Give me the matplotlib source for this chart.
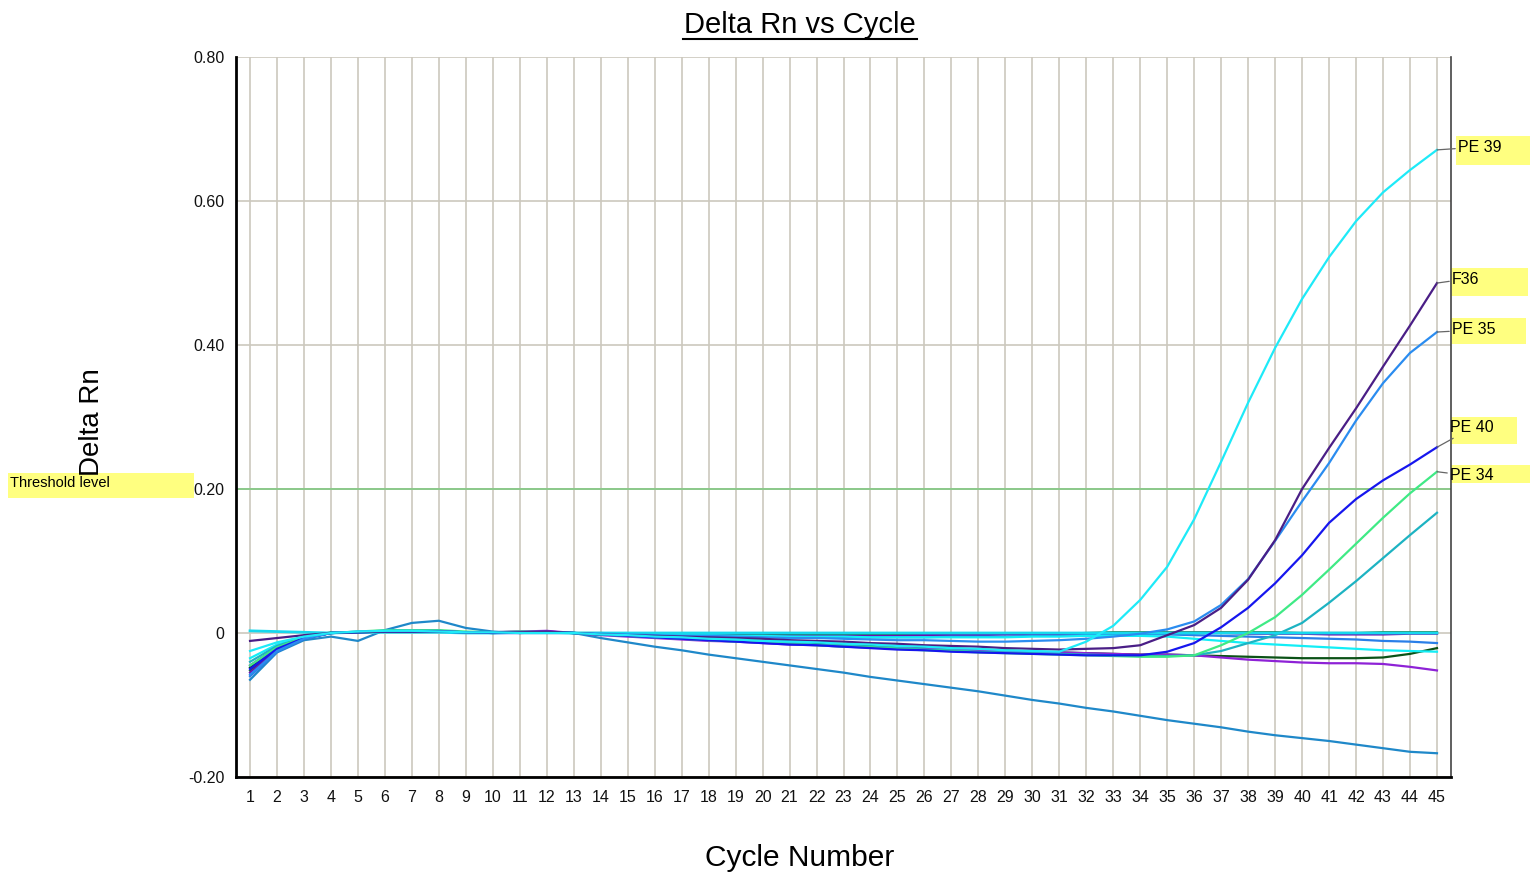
import matplotlib
matplotlib.use("Agg")
from matplotlib import pyplot as plt
from matplotlib.patches import Rectangle
import numpy as np

plt.rcParams['font.family'] = ['Liberation Sans', 'DejaVu Sans']

cycles = list(range(1, 46))

# labelled amplification curves
pe39 = [-0.025, -0.013, -0.005, 0.000, 0.002, 0.003, 0.003, 0.002, 0.001, 0.001, 0.000, 0.000, 0.000,
        -0.002, -0.003, -0.005, -0.006, -0.008, -0.009, -0.011, -0.012, -0.013, -0.015, -0.016, -0.018,
        -0.019, -0.021, -0.022, -0.024, -0.025, -0.026,
        -0.012, 0.010, 0.046, 0.092, 0.158, 0.238, 0.320, 0.396, 0.464, 0.522, 0.572, 0.612, 0.643, 0.671]
f36 = [-0.011, -0.007, -0.003, 0.000, 0.001, 0.002, 0.002, 0.002, 0.001, 0.001, 0.001, 0.002, 0.000,
       -0.002, -0.003, -0.004, -0.005, -0.006, -0.007, -0.008, -0.010, -0.011, -0.012, -0.014, -0.015,
       -0.017, -0.018, -0.019, -0.021, -0.022, -0.023,
       -0.022, -0.021, -0.017, -0.003, 0.011, 0.035, 0.074, 0.129, 0.200, 0.257, 0.312, 0.370, 0.427, 0.486]
pe35 = [-0.058, -0.025, -0.008, 0.000, 0.002, 0.003, 0.003, 0.003, 0.001, 0.001, 0.001, 0.001, 0.000,
        -0.001, -0.002, -0.003, -0.004, -0.004, -0.005, -0.006, -0.007, -0.007, -0.008, -0.009, -0.010,
        -0.010, -0.011, -0.012, -0.012, -0.011, -0.010,
        -0.008, -0.005, -0.001, 0.005, 0.016, 0.039, 0.075, 0.128, 0.183, 0.236, 0.295, 0.347, 0.389, 0.418]
pe40 = [-0.050, -0.022, -0.007, 0.000, 0.001, 0.002, 0.002, 0.002, 0.001, 0.000, 0.000, 0.001, 0.000,
        -0.002, -0.004, -0.006, -0.008, -0.010, -0.012, -0.014, -0.016, -0.017, -0.019, -0.021, -0.023,
        -0.024, -0.026, -0.027, -0.028, -0.029, -0.030,
        -0.031, -0.031, -0.031, -0.026, -0.014, 0.008, 0.035, 0.069, 0.108, 0.153, 0.186, 0.212, 0.234, 0.258]
pe34 = [-0.045, -0.020, -0.006, 0.000, 0.002, 0.004, 0.004, 0.004, 0.002, 0.001, 0.002, 0.001, 0.000,
        -0.002, -0.004, -0.006, -0.008, -0.010, -0.012, -0.013, -0.015, -0.017, -0.019, -0.020, -0.022,
        -0.024, -0.025, -0.027, -0.028, -0.029, -0.030,
        -0.031, -0.032, -0.033, -0.033, -0.031, -0.017, 0.000, 0.022, 0.053, 0.088, 0.124, 0.160, 0.194, 0.224]

# unlabelled wells
teal = [-0.040, -0.018, -0.006, 0.000, 0.001, 0.003, 0.003, 0.003, 0.001, 0.001, 0.001, 0.001, 0.000,
        -0.002, -0.004, -0.005, -0.007, -0.009, -0.011, -0.012, -0.014, -0.016, -0.018, -0.019, -0.021,
        -0.023, -0.024, -0.026, -0.027, -0.028, -0.029,
        -0.030, -0.031, -0.032, -0.032, -0.031, -0.025, -0.014, -0.003, 0.014, 0.042, 0.072, 0.104, 0.136, 0.167]
dkgreen = [-0.048, -0.021, -0.007, 0.000, 0.001, 0.002, 0.002, 0.002, 0.001, 0.000, 0.001, 0.001, 0.000,
           -0.002, -0.003, -0.005, -0.006, -0.008, -0.009, -0.011, -0.012, -0.014, -0.015, -0.017, -0.018,
           -0.020, -0.021, -0.023, -0.024, -0.026, -0.027,
           -0.028, -0.029, -0.030, -0.030, -0.031, -0.032, -0.033, -0.034, -0.035, -0.035, -0.035, -0.034, -0.029, -0.021]
violet = [-0.045, -0.020, -0.006, 0.000, 0.001, 0.002, 0.002, 0.002, 0.001, 0.001, 0.002, 0.003, 0.000,
          -0.003, -0.005, -0.007, -0.009, -0.011, -0.012, -0.014, -0.016, -0.017, -0.019, -0.020, -0.021,
          -0.022, -0.023, -0.024, -0.025, -0.026, -0.027,
          -0.028, -0.029, -0.030, -0.030, -0.031, -0.034, -0.037, -0.039, -0.041, -0.042, -0.042, -0.043, -0.047, -0.052]
cyan2 = [-0.035, -0.016, -0.006, 0.000, 0.001, 0.002, 0.002, 0.002, 0.001, 0.001, 0.001, 0.001, 0.000,
         -0.001, -0.002, -0.002, -0.003, -0.003, -0.004, -0.004, -0.005, -0.005, -0.005, -0.006, -0.006,
         -0.006, -0.006, -0.006, -0.006, -0.005, -0.005,
         -0.004, -0.004, -0.004, -0.005, -0.008, -0.011, -0.014, -0.016, -0.018, -0.020, -0.022, -0.024, -0.025, -0.026]
drift = [-0.065, -0.027, -0.010, -0.005, -0.011, 0.004, 0.014, 0.017, 0.007, 0.002, 0.000, 0.000, 0.000,
         -0.007, -0.013, -0.019, -0.024, -0.030, -0.035, -0.040, -0.045, -0.050, -0.055, -0.061, -0.066,
         -0.071, -0.076, -0.081, -0.087, -0.093, -0.098,
         -0.104, -0.109, -0.115, -0.121, -0.126, -0.131, -0.137, -0.142, -0.146, -0.150, -0.155, -0.160, -0.165, -0.167]
blue2 = [-0.060, -0.026, -0.008, 0.000, 0.001, 0.002, 0.002, 0.002, 0.001, 0.000, 0.000, 0.000, 0.000,
         -0.001, -0.002, -0.003, -0.003, -0.004, -0.004, -0.005, -0.005, -0.006, -0.006, -0.006, -0.006,
         -0.006, -0.005, -0.005, -0.005, -0.004, -0.004,
         -0.003, -0.003, -0.002, -0.002, -0.003, -0.004, -0.005, -0.006, -0.007, -0.008, -0.009, -0.011, -0.012, -0.014]
purple2 = [-0.055, -0.024, -0.008, 0.000, 0.001, 0.002, 0.002, 0.002, 0.001, 0.001, 0.002, 0.002, 0.000,
           -0.001, -0.002, -0.002, -0.003, -0.003, -0.004, -0.004, -0.004, -0.004, -0.004, -0.004, -0.004,
           -0.003, -0.003, -0.003, -0.002, -0.002, -0.002,
           -0.001, -0.001, -0.001, 0.000, 0.000, 0.000, -0.001, -0.001, -0.001, -0.002, -0.002, -0.002, -0.001, -0.001]
green2 = [-0.052, -0.023, -0.007, 0.001, 0.001, 0.002, 0.002, 0.002, 0.001, 0.001, 0.001, 0.001, 0.000,
          0.000, -0.001, -0.001, -0.001, -0.002, -0.002, -0.002, -0.002, -0.002, -0.002, -0.002, -0.002,
          -0.002, -0.001, -0.001, -0.001, -0.001, -0.001,
          0.000, 0.001, 0.001, 0.001, 0.001, 0.001, 0.001, 0.001, 0.000, 0.000, 0.000, 0.001, 0.001, 0.001]
flat = [0.003, 0.002, 0.001, 0.000, 0.001, 0.001, 0.001, 0.001, 0.000, 0.000, 0.001, 0.001, 0.000,
        0.000, 0.000, 0.000, 0.000, 0.000, 0.000, 0.000, 0.000, 0.000, 0.000, 0.000, 0.000,
        0.000, 0.000, 0.000, 0.000, 0.000, 0.000,
        0.000, 0.000, 0.000, 0.000, 0.000, 0.000, 0.000, 0.000, 0.000, 0.000, 0.000, 0.000, 0.000, 0.000]

threshold = 0.20
yticks = [-0.20, 0, 0.20, 0.40, 0.60, 0.80]
ytick_labels = ['-0.20', '0', '0.20', '0.40', '0.60', '0.80']

W, H = 1532, 875
fig = plt.figure(figsize=(W / 100, H / 100), dpi=100)
ax = fig.add_axes([236 / W, 1 - 777 / H, (1451 - 236) / W, (777 - 57) / H])

# unlabelled first so labelled ones sit on top
ax.plot(cycles, drift, color='#1F88C9', lw=1.6)
ax.plot(cycles, green2, color='#1E6E2A', lw=1.6)
ax.plot(cycles, purple2, color='#6A12B0', lw=1.6)
ax.plot(cycles, blue2, color='#2A7FE8', lw=1.6)
ax.plot(cycles, dkgreen, color='#0B5216', lw=1.6)
ax.plot(cycles, violet, color='#8E22D6', lw=1.6)
ax.plot(cycles, cyan2, color='#12EEF6', lw=1.6)
ax.plot(cycles, teal, color='#1DB3C2', lw=1.6)
ax.plot(cycles, flat, color='#16D8EE', lw=2.0)
ax.plot(cycles, pe34, color='#3FEA85', lw=1.6)
ax.plot(cycles, pe40, color='#1616EE', lw=1.6)
ax.plot(cycles, pe35, color='#2A8CF0', lw=1.6)
ax.plot(cycles, f36, color='#4A1E86', lw=1.6)
ax.plot(cycles, pe39, color='#1EEAF8', lw=1.6)

ax.axhline(threshold, color='#86C986', lw=1.3, zorder=1)

ax.set_xlim(0.48, 45.52)
ax.set_ylim(-0.20, 0.80)
ax.set_xticks(cycles)
ax.set_xticklabels([str(c) for c in cycles], fontsize=11.5, color='#111111')
ax.set_yticks(yticks)
ax.set_yticklabels(ytick_labels, fontsize=11.5, color='#111111')
ax.tick_params(axis='x', length=0, pad=9)
ax.tick_params(axis='y', length=0, pad=8.5)
ax.grid(True, color='#CCC8BE', lw=1.2, zorder=0)
ax.set_axisbelow(True)
for s in ['left', 'bottom']:
    ax.spines[s].set_color('black')
    ax.spines[s].set_linewidth(2)
ax.spines['top'].set_visible(False)
ax.spines['right'].set_color('#444444')
ax.spines['right'].set_linewidth(1.2)


def fx(x):
    return x / W


def fy(y):
    return 1 - y / H


# title with underline
fig.text(fx(800), fy(25), 'Delta Rn vs Cycle', ha='center', va='center', fontsize=21)
fig.add_artist(plt.Line2D([fx(683), fx(917)], [fy(38.5), fy(38.5)], color='black', lw=1.5))

fig.text(fx(800), fy(858), 'Cycle Number', ha='center', va='center', fontsize=21.5)
fig.text(fx(92), fy(422), 'Delta Rn', ha='center', va='center', fontsize=20, rotation=90)

# yellow label boxes
boxes = [(1456, 136, 1530, 165), (1450, 268, 1528, 296), (1450, 318, 1526, 344),
         (1450, 417, 1517, 444), (1450, 465, 1530, 483), (8, 473, 194, 498)]
for x0, y0, x1, y1 in boxes:
    fig.patches.append(Rectangle((fx(x0), fy(y1)), fx(x1 - x0), (y1 - y0) / H,
                                 transform=fig.transFigure, facecolor='#FFFF80',
                                 edgecolor='none', zorder=-1))

labels = ['PE 39', 'F36', 'PE 35', 'PE 40', 'PE 34']
label_series = [pe39, f36, pe35, pe40, pe34]
label_pos = [(1458, 147), (1452, 279), (1452, 330), (1450, 428), (1450, 476)]
for name, ser, (px, py) in zip(labels, label_series, label_pos):
    ax.annotate(name, xy=(cycles[-1], ser[-1]), xycoords='data',
                xytext=(px, H - py), textcoords='figure pixels',
                ha='left', va='center', fontsize=11.5, annotation_clip=False,
                arrowprops=dict(arrowstyle='-', color='#666666', lw=0.9,
                                shrinkA=0, shrinkB=0))

fig.text(fx(10), fy(483), 'Threshold level', ha='left', va='center', fontsize=10.5)

fig.savefig('out.png', dpi=100)
